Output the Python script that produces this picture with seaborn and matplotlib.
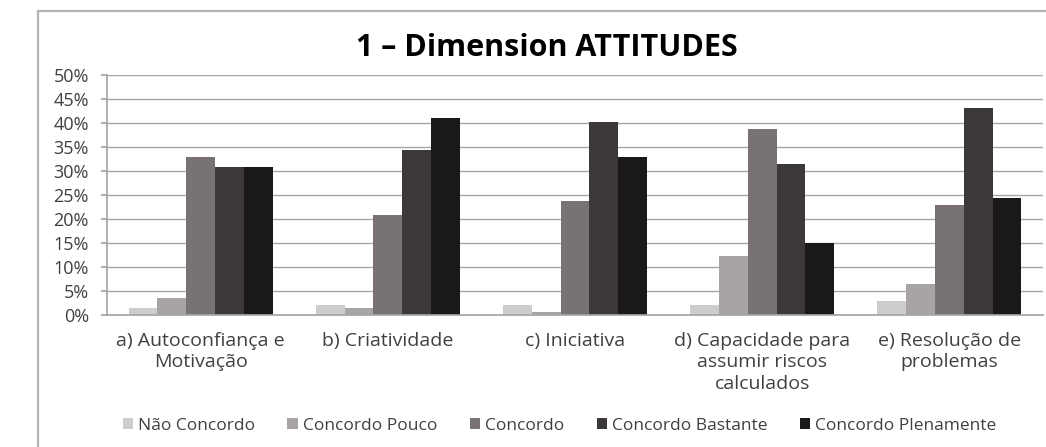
import matplotlib
matplotlib.use("Agg")
import matplotlib.pyplot as plt
from matplotlib.patches import Rectangle, Patch
from matplotlib.ticker import FixedLocator, PercentFormatter
import seaborn as sns
import pandas as pd

# Data
categories = [
    "a) Autoconfiança e\nMotivação",
    "b) Criatividade",
    "c) Iniciativa",
    "d) Capacidade para\nassumir riscos\ncalculados",
    "e) Resolução de\nproblemas",
]
levels = ["Não Concordo", "Concordo Pouco", "Concordo",
          "Concordo Bastante", "Concordo Plenamente"]
nao_concordo = [1.5, 2.1, 2.1, 2.1, 3.0]
concordo_pouco = [3.5, 1.4, 0.6, 12.2, 6.5]
concordo = [33.0, 20.8, 23.8, 38.7, 22.9]
concordo_bastante = [30.9, 34.4, 40.2, 31.5, 43.1]
concordo_plenamente = [30.9, 41.0, 33.0, 15.1, 24.4]
colors = ["#cfcccc", "#a8a4a4", "#787272", "#3d3838", "#1a1818"]

series = [nao_concordo, concordo_pouco, concordo,
          concordo_bastante, concordo_plenamente]
df = pd.DataFrame(
    [(c, lv, v) for lv, vals in zip(levels, series)
     for c, v in zip(categories, vals)],
    columns=["Categoria", "Nivel", "Valor"],
)

sns.set_theme(style="white")
plt.rcParams["font.family"] = ["Open Sans", "DejaVu Sans"]

fig = plt.figure(figsize=(10.46, 4.47), dpi=100)
ax = fig.add_axes([0.1023, 0.2953, 0.8947, 0.5370])

# outer frame of the original picture
fig.patches.append(Rectangle((0.0363, -0.1), 1.0, 1.0754,
                             transform=fig.transFigure, fill=False,
                             edgecolor="#b4b4b4", linewidth=1.6))

sns.barplot(data=df, x="Categoria", y="Valor", hue="Nivel",
            hue_order=levels, palette=colors, width=0.77,
            linewidth=0, saturation=1, legend=False, ax=ax)

ax.set_ylim(0, 50)
ax.set_xlim(-0.5, len(categories) - 0.5)
ax.yaxis.set_major_locator(FixedLocator(range(0, 51, 5)))
ax.yaxis.set_major_formatter(PercentFormatter(decimals=0))
ax.grid(axis="y", color="#a6a6a6", linewidth=1.0)
ax.set_axisbelow(True)

for side in ["top", "right"]:
    ax.spines[side].set_visible(False)
ax.spines["left"].set_color("#a6a6a6")
ax.spines["bottom"].set_color("#a6a6a6")

ax.set_xlabel("")
ax.set_ylabel("")
ax.tick_params(axis="x", which="major", length=0, pad=12,
               labelsize=14, labelcolor="#404040")
ax.set_xticks(range(len(categories)))
ax.set_xticklabels(categories, linespacing=1.25)
ax.xaxis.set_minor_locator(FixedLocator([i - 0.5 for i in range(len(categories) + 1)]))
ax.tick_params(axis="x", which="minor", length=5, color="#a6a6a6", direction="out")
ax.tick_params(axis="y", length=4, color="#a6a6a6", direction="out",
               labelsize=13, labelcolor="#404040", pad=9, left=True)

fig.text(0.523, 0.893, "1 – Dimension ATTITUDES", ha="center", va="center",
         fontsize=22, fontweight="bold", color="black")

handles = [Patch(facecolor=c, edgecolor="none") for c in colors]
fig.legend(handles, levels, loc="center", bbox_to_anchor=(0.535, 0.047),
           ncol=5, frameon=False, fontsize=12.5, handlelength=0.6,
           handleheight=0.6, handletextpad=0.3, columnspacing=1.85,
           labelcolor="#404040")

fig.savefig("out.png", dpi=100, facecolor="white")
